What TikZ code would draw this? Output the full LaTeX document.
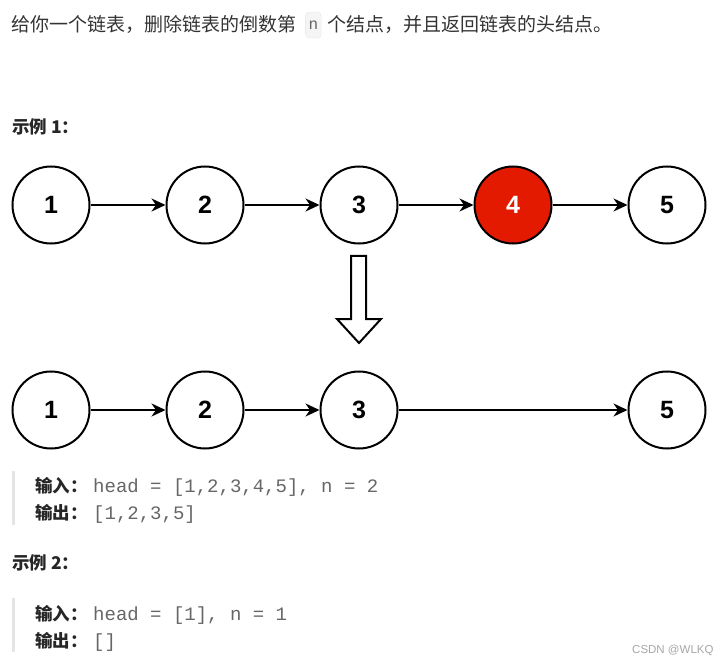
\documentclass[tikz,border=0pt]{standalone}
\usepackage{fontspec}
\setmainfont{Liberation Sans}
\newfontfamily\cjk{Noto Sans CJK SC}
\newfontfamily\codefont{Liberation Mono}
\usetikzlibrary{positioning,arrows.meta}
\definecolor{bodytext}{HTML}{333333}
\definecolor{codegray}{HTML}{666666}
\definecolor{quotebar}{HTML}{E5E5E5}
\definecolor{delred}{HTML}{E31A00}

\begin{document}
\begin{tikzpicture}[x=1pt,y=-1pt,
  listnode/.style={circle,draw,line width=2pt,minimum size=77pt,inner sep=0pt,font=\fontsize{25}{25}\selectfont\bfseries},
  delnode/.style={listnode,fill=delred,text=white},
  nextptr/.style={-{Stealth[length=14pt,width=13pt,inset=4.5pt]},line width=1.8pt},
  bodytxt/.style={font=\cjk\fontsize{19}{19}\selectfont,text=bodytext,inner sep=0pt,anchor=base west},
  headtxt/.style={font=\cjk\bfseries\fontsize{17.5}{17.5}\selectfont,text=black!85,inner sep=0pt,anchor=base west},
  codetxt/.style={font=\codefont\fontsize{19}{19}\selectfont,text=codegray,inner sep=0pt,anchor=base west}]
	   \useasboundingbox (0,0) rectangle (723,663);
	   % task text
	   \node[bodytxt] (intro) at (11,32) {给你一个链表，删除链表的倒数第};
	   \node[draw=black!10,fill=black!4,rounded corners=4pt,inner xsep=3pt,minimum height=26pt,text=codegray,
	         font=\codefont\fontsize{16}{16}\selectfont,right=9pt of intro.east] (ncode) {n};
	   \node[bodytxt,right=6pt of ncode.east,anchor=west] (introend) {个结点，并且返回链表的头结点。};
	   % example 1
	   \node[headtxt] (exone) at (12,134) {示例 1：};
	   \node[listnode] (a1) at (51,205) {1};
	   \node[listnode] (a2) at (205,205) {2};
	   \node[listnode] (a3) at (359,205) {3};
	   \node[delnode]  (a4) at (513,205) {4};
	   \node[listnode] (a5) at (667,205) {5};
	   \draw[nextptr] (a1) -- (a2);
	   \draw[nextptr] (a2) -- (a3);
	   \draw[nextptr] (a3) -- (a4);
	   \draw[nextptr] (a4) -- (a5);
	   \draw[line width=2pt,line join=miter] (351,256) -- (366,256) -- (366,319) -- (381,319) -- (359,343) -- (337,319) -- (351,319) -- cycle;
	   \node[listnode] (b1) at (51,410) {1};
	   \node[listnode] (b2) at (205,410) {2};
	   \node[listnode] (b3) at (359,410) {3};
	   \node[listnode] (b5) at (667,410) {5};
	   \draw[nextptr] (b1) -- (b2);
	   \draw[nextptr] (b2) -- (b3);
	   \draw[nextptr] (b3) -- (b5);
	   \draw[quotebar,line width=3pt] (13,471) -- (13,525);
	   \node[headtxt] (inone) at (35,492) {输入：};
	   \node[codetxt] (inonecode) at (93,492) {head = [1,2,3,4,5], n = 2};
	   \node[headtxt] (outone) at (35,519) {输出：};
	   \node[codetxt] (outonecode) at (93,519) {[1,2,3,5]};
	   % example 2
	   \node[headtxt] (extwo) at (12,569) {示例 2：};
	   \draw[quotebar,line width=3pt] (13,598) -- (13,652);
	   \node[headtxt] (intwo) at (35,620) {输入：};
	   \node[codetxt] (intwocode) at (93,620) {head = [1], n = 1};
	   \node[headtxt] (outtwo) at (35,647) {输出：};
	   \node[codetxt] (outtwocode) at (93,647) {[]};
	   \node[anchor=west,inner sep=0pt,text=black!35,font=\fontsize{11.5}{11.5}\selectfont] (mark) at (632,650) {CSDN @WLKQ};
 \end{tikzpicture}
\end{document}
